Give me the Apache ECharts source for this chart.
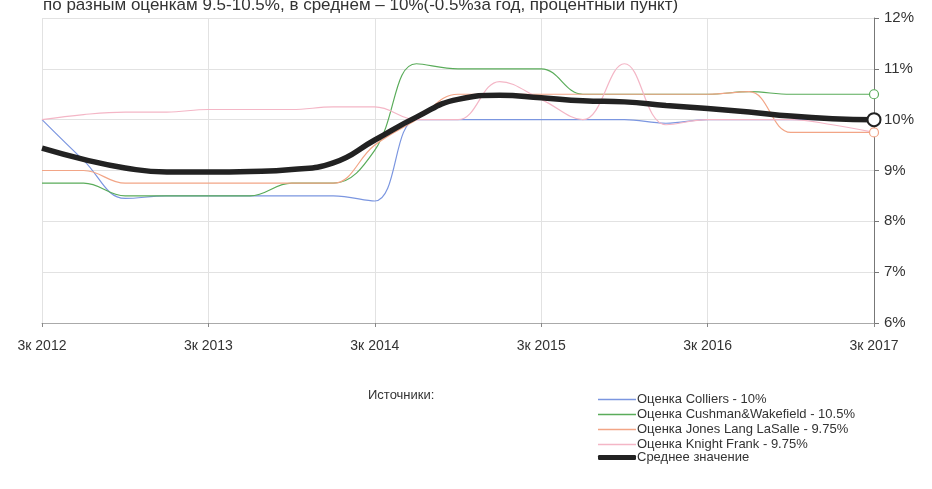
<!DOCTYPE html>
<html>
<head>
<meta charset="utf-8">
<script src="https://cdn.jsdelivr.net/npm/echarts@6/dist/echarts.min.js"></script>
<style>
  html, body { margin: 0; padding: 0; background: #fff; }
  #main { width: 932px; height: 489px; }
</style>
</head>
<body>
<div id="main"></div>
<script>
// кварталы
const quarters = ['3к 2012', '4к 2012', '1к 2013', '2к 2013', '3к 2013', '4к 2013', '1к 2014', '2к 2014',
    '3к 2014', '4к 2014', '1к 2015', '2к 2015', '3к 2015', '4к 2015', '1к 2016', '2к 2016',
    '3к 2016', '4к 2016', '1к 2017', '2к 2017', '3к 2017'];

// оценки ставки капитализации, %
const colliers = [10, 9.2, 8.45, 8.5, 8.5, 8.5, 8.5, 8.5, 8.4, 10, 10, 10, 10, 10, 10, 9.93, 10, 10, 10, 10, 10];
const cushman = [8.75, 8.75, 8.5, 8.5, 8.5, 8.5, 8.75, 8.75, 9.4, 11.1, 11.0, 11.0, 11.0, 10.5, 10.5, 10.5, 10.5, 10.55, 10.5, 10.5, 10.5];
const jones = [9.0, 9.0, 8.75, 8.75, 8.75, 8.75, 8.75, 8.75, 9.5, 10.0, 10.5, 10.5, 10.5, 10.5, 10.5, 10.5, 10.5, 10.55, 9.75, 9.75, 9.75];
const knight = [10.0, 10.1, 10.15, 10.15, 10.2, 10.2, 10.2, 10.25, 10.25, 10.0, 10.0, 10.75, 10.4, 10.0, 11.1, 9.9, 10.0, 10.0, 10.0, 9.9, 9.75];
const average = [9.44, 9.22, 9.05, 8.97, 8.97, 8.98, 9.02, 9.15, 9.6, 10.05, 10.4, 10.48, 10.43, 10.37, 10.35, 10.28, 10.22, 10.15, 10.07, 10.02, 10.0];

const names = ['Оценка Colliers - 10%', 'Оценка Cushman&Wakefield - 10.5%',
    'Оценка Jones Lang LaSalle - 9.75%', 'Оценка Knight Frank - 9.75%', 'Среднее значение'];
const colors = ['#7b96e0', '#5aac5a', '#f2a586', '#f4b6c6', '#222'];

const font = '"Liberation Sans Narrow", "Liberation Sans", Arial, sans-serif';
const last = quarters.length - 1;

// маркер только на последней точке
function endSymbol(size) {
    return {
        symbol: (v, p) => p.dataIndex === last ? 'circle' : 'none',
        symbolSize: size,
        showSymbol: true,
        showAllSymbol: true
    };
}

function thinLine(i, data, markSize) {
    return Object.assign({
        name: names[i],
        type: 'line',
        data: data,
        smooth: 0.4,
        lineStyle: { width: 1.2, color: colors[i] },
        itemStyle: { color: '#fff', borderColor: colors[i], borderWidth: 1.2 },
        z: 2
    }, endSymbol(markSize));
}

let chart = echarts.init(document.getElementById('main'));
chart.setOption({
    animation: false,
    textStyle: { fontFamily: font },
    title: {
        text: 'по разным оценкам 9.5-10.5%, в среднем – 10%(-0.5%за год, процентный пункт)',
        left: 38,
        top: -8,
        textStyle: { fontFamily: font, fontSize: 17, fontWeight: 'normal', color: '#333' }
    },
    grid: { left: 42, right: 58, top: 18, bottom: 166 },
    legend: [
        {
            orient: 'vertical',
            left: 593,
            top: 388,
            itemWidth: 38,
            itemHeight: 1.5,
            itemGap: 2,
            icon: 'rect',
            data: names.slice(0, 4).map((n, i) => ({ name: n, itemStyle: { color: colors[i], borderWidth: 0 } })),
            textStyle: { fontFamily: font, fontSize: 13, color: '#333', padding: [0, 0, 0, -4] }
        },
        {
            orient: 'vertical',
            left: 593,
            top: 446,
            itemWidth: 38,
            itemHeight: 5,
            icon: 'roundRect',
            data: [{ name: names[4], itemStyle: { color: colors[4], borderWidth: 0 } }],
            textStyle: { fontFamily: font, fontSize: 13, color: '#333', padding: [0, 0, 0, -4] }
        }
    ],
    graphic: [{
        type: 'text',
        left: 368,
        top: 389,
        style: { text: 'Источники:', font: '13px ' + font, fill: '#333' }
    }],
    xAxis: {
        type: 'category',
        data: quarters,
        boundaryGap: false,
        axisLine: { lineStyle: { color: '#aaa' } },
        axisTick: { interval: 3, length: 4, lineStyle: { color: '#888' } },
        axisLabel: { interval: 3, margin: 16, fontSize: 14, color: '#333', fontFamily: font },
        splitLine: { show: true, interval: 3, lineStyle: { color: '#e2e2e2' } }
    },
    yAxis: {
        type: 'value',
        position: 'right',
        min: 6,
        max: 12,
        interval: 1,
        axisLine: { show: true, lineStyle: { color: '#777' } },
        axisTick: { show: true, length: 5, lineStyle: { color: '#777' } },
        axisLabel: { formatter: '{value}%', margin: 10, fontSize: 15, color: '#333', fontFamily: font },
        splitLine: { lineStyle: { color: '#e2e2e2' } }
    },
    series: [
        thinLine(0, colliers, 0),
        thinLine(1, cushman, 9),
        thinLine(2, jones, 9),
        thinLine(3, knight, 0),
        Object.assign({
            name: names[4],
            type: 'line',
            data: average,
            smooth: 0.5,
            lineStyle: { width: 5.5, color: colors[4] },
            itemStyle: { color: '#fff', borderColor: colors[4], borderWidth: 2 },
            z: 5
        }, endSymbol(13))
    ]
});
</script>
</body>
</html>
